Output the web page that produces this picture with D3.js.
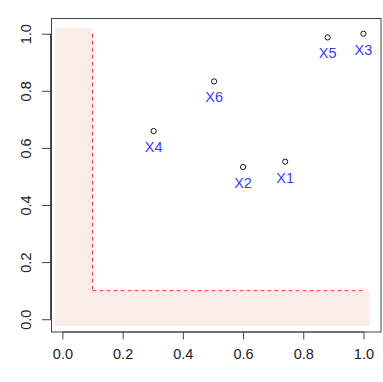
<!DOCTYPE html>
<html>
<head>
<meta charset="utf-8">
<script src="https://cdn.jsdelivr.net/npm/d3@7"></script>
<style>
  body { margin: 0; background: #fff; }
  text { font-family: "Liberation Sans", Arial, sans-serif; }
</style>
</head>
<body>
<div id="chart"></div>
<script>
const names = ["X1", "X2", "X3", "X4", "X5", "X6"];
const xVals = [0.74, 0.60, 1.00, 0.303, 0.881, 0.504];
const yVals = [0.552, 0.533, 1.00, 0.659, 0.987, 0.833];
const xTicks = [0, 0.2, 0.4, 0.6, 0.8, 1.0];
const yTicks = [0, 0.2, 0.4, 0.6, 0.8, 1.0];
const cut = 0.1;
const shadeMin = -0.024, shadeMax = 1.02;

const width = 383, height = 382;
const box = { left: 51, top: 18, right: 381.5, bottom: 331.5 };

const svg = d3.select("#chart").append("svg")
  .attr("width", width)
  .attr("height", height);

const x = d3.scaleLinear().domain([-0.038, 1.06]).range([box.left, box.right]);
const y = d3.scaleLinear().domain([-0.043, 1.055]).range([box.bottom, box.top]);

// L-shaped shaded region
const shade = [
  [shadeMin, shadeMin], [shadeMax, shadeMin], [shadeMax, cut],
  [cut, cut], [cut, shadeMax], [shadeMin, shadeMax]
];
svg.append("path")
  .attr("d", d3.line().x(d => x(d[0])).y(d => y(d[1]))(shade) + "Z")
  .attr("fill", "#faede8");

// dashed cut lines
svg.append("line")
  .attr("x1", x(cut)).attr("x2", x(cut))
  .attr("y1", y(1)).attr("y2", y(cut))
  .attr("stroke", "#ff3030").attr("stroke-dasharray", "4,3");
svg.append("line")
  .attr("x1", x(cut)).attr("x2", x(1))
  .attr("y1", y(cut)).attr("y2", y(cut))
  .attr("stroke", "#ff3030").attr("stroke-dasharray", "4,3");

// axes
const xAxis = svg.append("g")
  .attr("transform", `translate(0,${box.bottom})`)
  .call(d3.axisBottom(x).tickValues(xTicks).tickFormat(d3.format(".1f")).tickSize(8).tickPadding(9));
const yAxis = svg.append("g")
  .attr("transform", `translate(${box.left},0)`)
  .call(d3.axisLeft(y).tickValues(yTicks).tickFormat(d3.format(".1f")).tickSize(9).tickPadding(0));

xAxis.select(".domain").attr("d", `M${x(0)},0.5H${x(1)}`);
yAxis.select(".domain").attr("d", `M-0.5,${y(0)}V${y(1)}`);
[xAxis, yAxis].forEach(g => {
  g.selectAll("line, .domain").attr("stroke", "#444");
  g.selectAll("text").attr("font-size", 14.5).attr("fill", "#222")
    .style("font-family", "Liberation Sans, Arial, sans-serif");
});
yAxis.selectAll(".tick text")
  .attr("transform", "rotate(-90)")
  .attr("x", 0)
  .attr("y", -20)
  .attr("dy", 0)
  .attr("text-anchor", "middle");

// plot box
svg.append("rect")
  .attr("x", box.left + 0.5).attr("y", box.top + 0.5)
  .attr("width", box.right - box.left - 1).attr("height", box.bottom - box.top)
  .attr("fill", "none").attr("stroke", "#444");

// points and labels
const pts = names.map((n, i) => ({ name: n, x: xVals[i], y: yVals[i] }));
svg.selectAll("circle")
  .data(pts)
  .enter()
  .append("circle")
  .attr("cx", d => x(d.x))
  .attr("cy", d => y(d.y))
  .attr("r", 2.6)
  .attr("fill", "none")
  .attr("stroke", "#111");

svg.selectAll("text.lab")
  .data(pts)
  .enter()
  .append("text")
  .attr("class", "lab")
  .text(d => d.name)
  .attr("x", d => x(d.x))
  .attr("y", d => y(d.y) + 21)
  .attr("text-anchor", "middle")
  .attr("font-size", 14.5)
  .attr("fill", "#3b3bff");
</script>
</body>
</html>
